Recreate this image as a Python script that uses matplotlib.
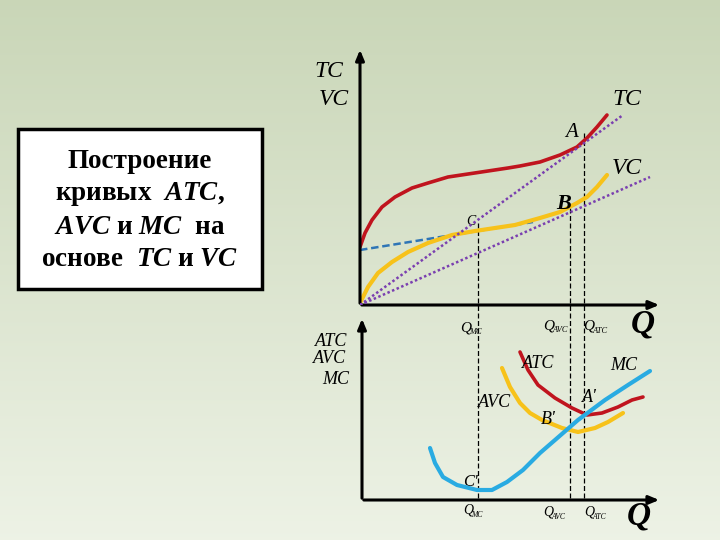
import numpy as np
import matplotlib
matplotlib.use("Agg")
import matplotlib.pyplot as plt

plt.rcParams['mathtext.fontset'] = 'custom'
plt.rcParams['mathtext.it'] = 'Liberation Serif:italic:bold'
plt.rcParams['mathtext.rm'] = 'Liberation Serif:bold'

# --- top panel: total and variable cost (Q, cost) ---
tc_q = [0, 5, 12, 22, 35, 52, 68, 88, 108, 128, 148, 160, 180, 200, 217, 227, 237, 247]
tc_c = [58, 72, 85, 98, 108, 117, 122, 128, 131, 134, 137, 139, 143, 150, 158, 167, 178, 190]
vc_q = [0, 8, 18, 32, 48, 68, 92, 115, 135, 155, 180, 200, 217, 227, 237, 247]
vc_c = [2, 18, 32, 43, 53, 62, 70, 74, 77, 80, 87, 93, 102, 108, 118, 130]
fc_line_q = [0, 173]
fc_line_c = [55, 83]
ray_a_q = [0, 263]
ray_a_c = [0, 190]
ray_b_q = [0, 290]
ray_b_c = [0, 128]

# --- bottom panel: average and marginal cost ---
mc_q = [70, 75, 83, 97, 117, 132, 147, 163, 180, 195, 218, 245, 268, 290]
mc_c = [52, 37, 23, 15, 10, 10, 18, 30, 47, 60, 80, 100, 115, 129]
avc_q = [142, 150, 160, 170, 182, 202, 218, 235, 248, 263]
avc_c = [132, 113, 97, 87, 80, 72, 68, 72, 78, 87]
atc_q = [160, 168, 178, 195, 212, 227, 242, 258, 272, 283]
atc_c = [148, 130, 115, 102, 92, 85, 87, 93, 100, 103]

# quantities: Q_MC, Q_AVC, Q_ATC and where their guides start in the top panel
q_marks = [118, 210, 224]
q_guide_top = [82, 97, 172]

RED = '#c0141e'
YEL = '#f7c21a'
CYAN = '#29abe2'
PURP = '#7a3fb0'
BLUE = '#2e75b6'

fig = plt.figure(figsize=(7.2, 5.4), dpi=100)

# background gradient
bg = fig.add_axes([0, 0, 1, 1])
top_col = np.array([0.79, 0.84, 0.72])
bot_col = np.array([0.93, 0.95, 0.90])
t = np.linspace(0, 1, 200)[:, None, None]
grad = top_col * (1 - t) + bot_col * t
grad = np.repeat(grad, 2, axis=1)
bg.imshow(grad, aspect='auto', extent=[0, 1, 0, 1])
bg.set_xlim(0, 1)
bg.set_ylim(0, 1)
bg.axis('off')

# title box
bg.add_patch(plt.Rectangle((18 / 720, 1 - 289 / 540), 244 / 720, 160 / 540,
                           facecolor='white', edgecolor='black', lw=2.5))
box_lines = ['Построение', r'кривых  $ATC$,', r'$AVC$ и $MC$  на', r'основе  $TC$ и $VC$']
for i, s in enumerate(box_lines):
    bg.text(140 / 720, 1 - (162 + 32.5 * i) / 540, s, ha='center', va='center',
            fontsize=19.5, fontfamily='Liberation Serif', fontweight='bold')

lab = dict(fontfamily='Liberation Serif', fontstyle='italic', color='black')

# ---------- top axes ----------
ax1 = fig.add_axes([360 / 720, 1 - 305 / 540, 300 / 720, 255 / 540])
ax1.set_xlim(0, 300)
ax1.set_ylim(0, 255)
ax1.axis('off')

ax1.plot(fc_line_q, fc_line_c, color=BLUE, lw=1.8, ls=(0, (3, 1.5)), zorder=2)
ax1.plot(vc_q, vc_c, color=YEL, lw=3, solid_capstyle='round', solid_joinstyle='round', zorder=3)
ax1.plot(tc_q, tc_c, color=RED, lw=2.6, solid_capstyle='round', solid_joinstyle='round', zorder=3)
ax1.plot(ray_a_q, ray_a_c, color=PURP, lw=1.8, ls=(0, (1, 1)), zorder=4)
ax1.plot(ray_b_q, ray_b_c, color=PURP, lw=1.8, ls=(0, (1, 1)), zorder=4)

for q, c in zip(q_marks, q_guide_top):
    ax1.plot([q, q], [c, -195], color='black', lw=0.9, ls=(0, (4, 2)),
             clip_on=False, zorder=1)

arrow = dict(arrowstyle='-|>,head_length=0.6,head_width=0.25', color='black', lw=2.2)
ax1.annotate('', xy=(0, 258), xytext=(0, -1), arrowprops=arrow, annotation_clip=False)
ax1.annotate('', xy=(302, 0), xytext=(-1, 0), arrowprops=arrow, annotation_clip=False)

ax1.text(-46, 228, 'TC', fontsize=17, **lab)
ax1.text(-41, 200, 'VC', fontsize=17, **lab)
ax1.text(252, 200, 'TC', fontsize=17, **lab)
ax1.text(252, 131, 'VC', fontsize=17, **lab)
ax1.text(205, 168, 'A', fontsize=15, **lab)
ax1.text(196, 96, 'B', fontsize=16, fontweight='bold', fontfamily='Liberation Serif',
         fontstyle='italic')
ax1.text(106, 80, 'C', fontsize=10, **lab)


def qlabel(ax, x, y, sub, size=11):
    ax.text(x, y, 'Q', fontsize=size, va='baseline', **lab)
    ax.text(x + size * 0.85, y - 3, sub, fontsize=size * 0.55, va='baseline', **lab)


qlabel(ax1, 100, -26, 'MC')
qlabel(ax1, 183, -24, 'AVC')
qlabel(ax1, 223, -25, 'ATC')
ax1.text(271, -28, 'Q', fontsize=24, fontweight='bold', **lab)

# ---------- bottom axes ----------
ax2 = fig.add_axes([360 / 720, 1 - 500 / 540, 300 / 720, 182 / 540])
ax2.set_xlim(0, 300)
ax2.set_ylim(0, 182)
ax2.axis('off')

ax2.plot(avc_q, avc_c, color=YEL, lw=3, solid_capstyle='round', solid_joinstyle='round', zorder=3)
ax2.plot(atc_q, atc_c, color=RED, lw=2.6, solid_capstyle='round', solid_joinstyle='round', zorder=3)
ax2.plot(mc_q, mc_c, color=CYAN, lw=3, solid_capstyle='round', solid_joinstyle='round', zorder=4)

ax2.annotate('', xy=(2, 184), xytext=(2, -1), arrowprops=arrow, annotation_clip=False)
ax2.annotate('', xy=(302, 0), xytext=(1, 0), arrowprops=arrow, annotation_clip=False)

ax2.text(-45, 154, 'ATC', fontsize=13, **lab)
ax2.text(-47, 137, 'AVC', fontsize=13, **lab)
ax2.text(-38, 116, 'MC', fontsize=13, **lab)
ax2.text(162, 132, 'ATC', fontsize=13, **lab)
ax2.text(250, 130, 'MC', fontsize=13, **lab)
ax2.text(118, 93, 'AVC', fontsize=13, **lab)
ax2.text(222, 98, "A'", fontsize=13, **lab)
ax2.text(181, 76, "B'", fontsize=13, **lab)
ax2.text(103, 14, "C'", fontsize=12, **lab)

qlabel(ax2, 103, -14, 'MC', size=10)
qlabel(ax2, 183, -16, 'AVC', size=10)
qlabel(ax2, 224, -16, 'ATC', size=10)
ax2.text(267, -24, 'Q', fontsize=24, fontweight='bold', **lab)

fig.savefig('out.png', dpi=100)
